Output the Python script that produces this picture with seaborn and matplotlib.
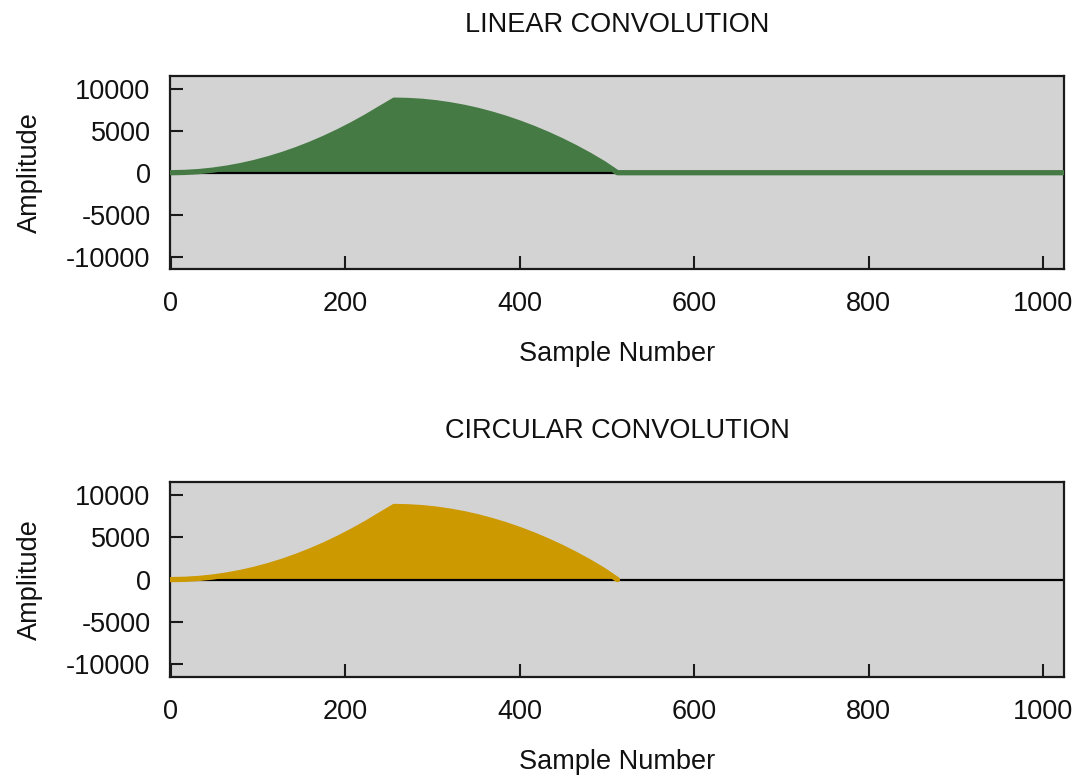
import matplotlib
matplotlib.use("Agg")
import matplotlib.pyplot as plt
import seaborn as sns
import pandas as pd

# ---- data ----
samples = [0, 16, 32, 48, 64, 80, 96, 112, 128, 144, 160, 176, 192, 208, 224, 240, 256,
           272, 288, 304, 320, 336, 352, 368, 384, 400, 416, 432, 448, 464, 480, 496, 512]
linear_amp = [0, 35, 135, 305, 545, 850, 1225, 1670, 2180, 2760, 3410, 4125, 4910, 5760, 6680, 7670, 8650,
              8610, 8510, 8340, 8100, 7800, 7430, 6990, 6490, 5920, 5290, 4590, 3830, 3000, 2100, 1120, 0]
linear_tail_samples = [512, 1023]
linear_tail_amp = [0, 0]
circular_amp = [0, 35, 135, 305, 545, 850, 1225, 1670, 2180, 2760, 3410, 4125, 4910, 5760, 6680, 7670, 8650,
                8610, 8510, 8340, 8100, 7800, 7430, 6990, 6490, 5920, 5290, 4590, 3830, 3000, 2100, 1120, 0]
titles = ["LINEAR CONVOLUTION", "CIRCULAR CONVOLUTION"]
x_ticks = [0, 200, 400, 600, 800, 1000]
y_ticks = [-10000, -5000, 0, 5000, 10000]
colors = ["#467a45", "#cc9900"]

sns.set_theme(style="white")
plt.rcParams["font.family"] = ["Liberation Sans", "DejaVu Sans"]
plt.rcParams["axes.facecolor"] = "#d3d3d3"
plt.rcParams["text.color"] = "#111111"
plt.rcParams["axes.labelcolor"] = "#111111"

fig = plt.figure(figsize=(10.83, 7.78), dpi=100)
axes = [fig.add_axes([0.157, 0.654, 0.8255, 0.248]),
        fig.add_axes([0.157, 0.130, 0.8255, 0.250])]

lin_df = pd.DataFrame({"Sample": samples + linear_tail_samples[1:],
                       "Amp": linear_amp + linear_tail_amp[1:]})
circ_df = pd.DataFrame({"Sample": samples, "Amp": circular_amp})

for ax, df, title, col in zip(axes, [lin_df, circ_df], titles, colors):
    ax.set_facecolor("#d3d3d3")
    ax.fill_between(df["Sample"], 0, df["Amp"], color=col, linewidth=0, zorder=1)
    ax.axhline(0, color="black", linewidth=1.6, zorder=2)
    sns.lineplot(data=df, x="Sample", y="Amp", ax=ax, color=col, linewidth=3.8,
                 zorder=3, estimator=None, sort=False)
    ax.set_xlim(-1, 1024)
    ax.set_ylim(-11500, 11500)
    ax.set_xticks(x_ticks)
    ax.set_yticks(y_ticks)
    ax.set_xticklabels([str(t) for t in x_ticks])
    ax.set_yticklabels([str(t) for t in y_ticks])
    ax.tick_params(axis="both", which="major", direction="in", length=9.5, width=1.5,
                   color="#1a1a1a", labelsize=19.5, labelcolor="#111111")
    ax.tick_params(axis="x", pad=16, bottom=True, top=False)
    ax.tick_params(axis="y", pad=14, left=True, right=False)
    for sp in ax.spines.values():
        sp.set_visible(True)
        sp.set_color("#1a1a1a")
        sp.set_linewidth(1.6)
    ax.set_xlabel("Sample Number", fontsize=19.5, labelpad=17)
    ax.set_ylabel("Amplitude", fontsize=19.5, labelpad=17)
    ax.set_title(title, fontsize=19.5, pad=32)
    ax.grid(False)

fig.savefig("out.png", dpi=100)
